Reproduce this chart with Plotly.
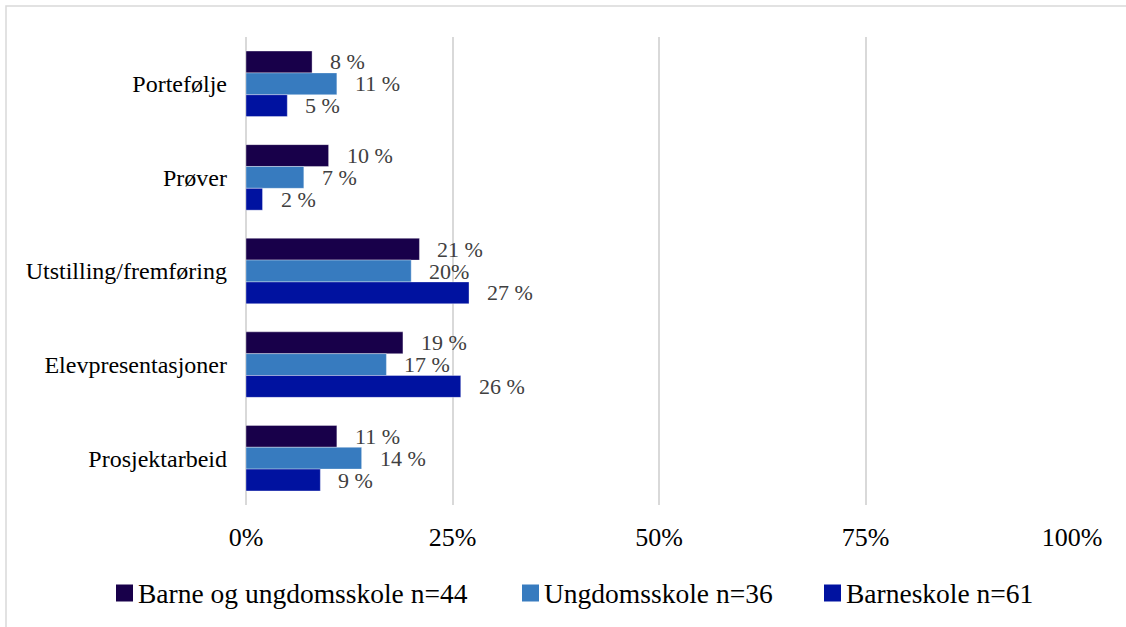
import plotly.graph_objects as go

# Assessment forms (top to bottom) and the three school groups
categories = ["Portefølje", "Prøver", "Utstilling/fremføring", "Elevpresentasjoner", "Prosjektarbeid"]

series_names = ["Barne og ungdomsskole n=44", "Ungdomsskole n=36", "Barneskole n=61"]

barne_ungdom = [8, 10, 21, 19, 11]
ungdom = [11, 7, 20, 17, 14]
barne = [5, 2, 27, 26, 9]

barne_ungdom_labels = ["8 %", "10 %", "21 %", "19 %", "11 %"]
ungdom_labels = ["11 %", "7 %", "20%", "17 %", "14 %"]
barne_labels = ["5 %", "2 %", "27 %", "26 %", "9 %"]

tick_values = [0, 25, 50, 75, 100]
tick_labels = ["0%", "25%", "50%", "75%", "100%"]

colors = ["#18004a", "#377bbf", "#0012a0"]

W, H = 1126, 627
margin = dict(l=246, r=54, t=37, b=122)
plot_w = W - margin["l"] - margin["r"]
plot_h = H - margin["t"] - margin["b"]
bargap = 0.3
bar_px = plot_h / len(categories) * (1 - bargap) / 3

FONT = "Liberation Serif"


def px_x(px):
    """Page x pixel -> paper coordinate."""
    return (px - margin["l"]) / plot_w


def px_y(py):
    """Page y pixel (from top) -> paper coordinate."""
    return (H - margin["b"] - py) / plot_h


fig = go.Figure()
all_values = [barne_ungdom, ungdom, barne]
all_labels = [barne_ungdom_labels, ungdom_labels, barne_labels]

for name, vals, col in zip(series_names, all_values, colors):
    fig.add_trace(go.Bar(
        y=categories, x=vals, name=name, orientation="h",
        marker=dict(color=col, line=dict(color="rgba(255,255,255,0.6)", width=0.6)),
        hoverinfo="skip", showlegend=False,
    ))

# value labels to the right of each bar
annotations = []
for i, (vals, labs) in enumerate(zip(all_values, all_labels)):
    for cat, v, t in zip(categories, vals, labs):
        annotations.append(dict(
            x=v, y=cat, xref="x", yref="y", text=t, showarrow=False,
            xanchor="left", yanchor="middle", xshift=16,
            yshift=-(i - 1) * bar_px,
            font=dict(family=FONT, size=22, color="#404040"),
        ))

# chart-area frame (top and left edges visible)
shapes = [dict(
    type="rect", xref="paper", yref="paper",
    x0=px_x(6), x1=1.3, y0=-0.6, y1=px_y(6),
    line=dict(color="#d9d9d9", width=1.5), fillcolor="rgba(0,0,0,0)", layer="below",
)]

# legend row below the axis: colour square + series name
legend_left = [116, 522, 824]
legend_cy = 593
sq = 17
for name, col, lx in zip(series_names, colors, legend_left):
    shapes.append(dict(
        type="rect", xref="paper", yref="paper",
        x0=px_x(lx), x1=px_x(lx + sq),
        y0=px_y(legend_cy + sq / 2), y1=px_y(legend_cy - sq / 2),
        line=dict(width=0), fillcolor=col,
    ))
    annotations.append(dict(
        x=px_x(lx + sq + 3), y=px_y(legend_cy), xref="paper", yref="paper",
        text=name, showarrow=False, xanchor="left", yanchor="middle",
        font=dict(family=FONT, size=27.5, color="black"),
    ))

fig.update_layout(
    width=W, height=H, margin=margin,
    paper_bgcolor="white", plot_bgcolor="white",
    barmode="group", bargap=bargap, bargroupgap=0,
    font=dict(family=FONT, color="black"),
    showlegend=False,
    xaxis=dict(
        range=[0, 100], tickvals=tick_values, ticktext=tick_labels,
        showgrid=True, gridcolor="#d9d9d9", gridwidth=1.5,
        zeroline=True, zerolinecolor="#d9d9d9", zerolinewidth=1.5,
        showline=False, ticks="", ticklabelstandoff=14,
        tickfont=dict(family=FONT, size=26, color="black"),
        fixedrange=True,
    ),
    yaxis=dict(
        autorange="reversed", showgrid=False, showline=False, ticks="",
        ticklabelstandoff=18,
        tickfont=dict(family=FONT, size=24, color="black"),
        fixedrange=True,
    ),
    annotations=annotations,
    shapes=shapes,
)

fig.write_html("out.html")
